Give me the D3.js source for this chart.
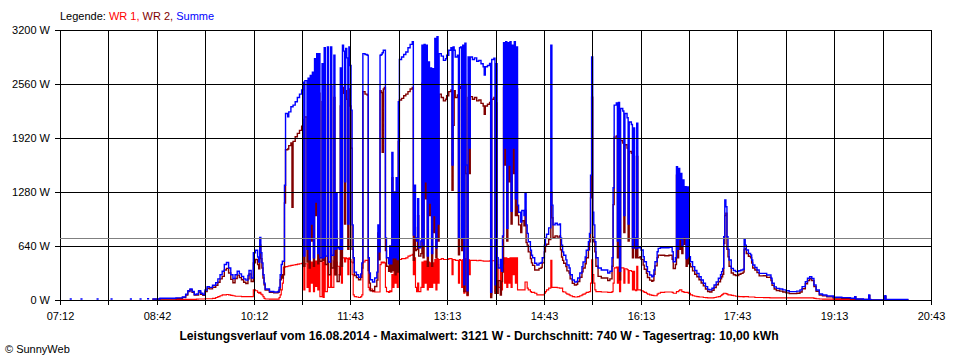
<!DOCTYPE html>
<html><head><meta charset="utf-8">
<script src="https://cdn.jsdelivr.net/npm/d3@7"></script>
<style>
html,body{margin:0;padding:0;background:#fff;}
svg{display:block;}
text{font-family:"Liberation Sans",Arial,sans-serif;}
</style></head><body>
<svg id="chart" width="960" height="360"></svg>
<script>
// ---- data (time in minutes after midnight, power in W) ----
const times = [
441,443,444,451,453,454,466,468,469,479,481,482,497,499,500,506,508,509,513,515,516,
518,525,540,546,549,551,553,555,557,559,
561,563,565,567,569,571,574,577,579,581,
583,585,587,589,591,593,595,597,599,601,
603,605,607,608,610,612,614,616,617,618,
619,620,621,622,623,627,631,635,636,637,
638,639,640,641,642,644,645,647,648,649,
651,653,655,657,658,659,660,662,663,664,
665,666,667,668,669,670,671,672,673,674,
676,677,678,679,681,682,684,685,687,688,
689,690,692,693,694,695,696,
697,698,699,700,701,702,703,704,705,706,
708,710,712,713,714,716,718,719,720,721,
723,725,727,728,729,730,731,732,733,734,
735,736,738,739,740,741,742,743,744,745,
746,747,748,750,752,754,756,758,760,761,
762,763,764,765,766,768,769,770,771,772,
773,774,775,776,777,778,779,780,781,782,
783,784,785,787,789,791,792,794,796,797,
798,799,800,802,803,804,805,806,807,808,
809,810,811,812,813,814,816,818,820,822,
824,826,827,828,830,832,833,834,836,837,
838,839,840,842,843,844,845,846,847,848,
849,850,851,852,853,854,855,856,857,858,
859,861,862,864,865,866,867,868,870,871,
872,874,876,878,880,881,883,884,885,887,
889,890,891,893,895,897,898,899,900,901,
903,904,906,907,909,911,913,914,916,918,
919,921,922,924,925,926,927,928,929,930,
931,933,936,939,942,944,946,947,948,950,
951,952,953,954,956,957,958,960,961,962,
964,965,966,967,968,969,970,972,973,975,
976,978,979,981,983,984,985,986,988,989,
991,995,999,1002,1003,1005,1006,1007,1008,1009,
1010,1011,1012,1013,1014,1015,1016,1017,1019,1021,
1023,1025,1027,1029,1031,1033,1035,1037,1039,1041,
1043,1045,1047,1048,1049,1050,1051,1052,1053,1054,
1055,1057,1059,1061,1064,1066,1068,1069,1070,1071,
1073,1075,1076,1077,1079,1081,1083,1087,1090,1093,
1094,1095,1097,1099,1102,1105,1108,1111,1114,1118,
1121,1123,1126,1128,1130,1132,1134,1136,1139,1142,
1146,1152,1160,1168,1172,1173,1180,1185,1186,1187,
1199,1200,1201,1222,1223
];
const wr1 = [
null,null,null,null,null,null,null,null,null,null,null,null,null,null,null,null,null,null,null,null,null,
0,3,5,5,8,8,8,8,8,10,
12,12,12,15,15,15,20,30,40,50,
60,60,65,60,55,50,45,45,45,40,
40,40,40,40,40,120,110,90,80,90,
70,60,40,20,12,10,10,10,30,60,
120,200,390,390,395,400,405,410,410,415,
420,425,430,435,440,120,430,150,440,100,
450,200,450,100,460,160,460,120,450,40,
450,30,460,100,460,150,470,150,460,300,
450,400,300,440,200,500,500,
450,500,490,300,500,480,450,300,60,40,
35,30,40,60,450,470,470,150,120,130,
100,95,95,95,95,420,450,440,450,440,
150,100,90,110,100,300,150,400,200,350,
150,470,480,490,490,500,520,530,540,300,
500,150,100,200,100,150,450,150,460,200,
460,120,450,150,440,150,440,200,480,120,
490,200,480,490,480,480,480,490,490,300,
480,480,470,470,200,480,470,150,480,80,
490,100,50,480,300,470,470,470,465,470,
465,460,460,460,460,465,60,465,465,100,
465,420,150,420,120,430,500,200,500,150,
490,200,500,150,500,300,500,200,500,120,
120,120,120,120,213,213,140,120,100,90,
90,80,60,60,60,60,80,100,120,140,
470,150,150,150,145,140,140,140,100,95,
80,70,60,50,40,35,35,40,50,60,
70,80,90,95,100,200,475,300,200,120,
100,100,95,95,90,90,100,200,380,390,
200,390,100,380,380,200,370,360,200,350,
340,120,340,120,110,400,120,120,110,100,
90,80,70,60,55,55,50,50,70,80,
90,95,95,90,80,80,100,100,110,120,
120,100,100,90,90,90,90,80,60,50,
45,40,35,35,30,28,25,25,25,30,
35,40,50,60,70,80,80,75,70,60,
60,55,50,45,40,40,35,40,40,40,
35,35,35,35,30,30,30,28,28,25,
25,25,25,25,25,25,25,25,25,25,
25,25,25,25,25,25,20,15,12,10,
10,8,8,5,3,3,2,0,0,0,
null,null,null,null,null
];
const wr2 = [
null,null,null,null,null,null,null,null,null,null,null,null,null,null,null,null,null,null,null,null,null,
10,15,18,30,60,100,122,90,58,60,
95,68,55,100,140,132,152,175,210,250,
280,355,375,320,245,205,255,295,265,240,
210,195,250,310,220,440,480,420,370,650,
490,380,260,180,118,90,85,90,120,240,
300,260,300,1150,1780,1790,1830,1860,1100,1880,
1935,1975,2010,2060,2140,400,2170,450,2190,380,
2210,700,2250,400,2400,1000,2460,430,2450,460,
2350,470,2530,420,2540,300,2530,380,2400,300,
820,220,300,2300,400,2520,2450,
900,2480,2380,600,2500,2300,1800,600,440,290,
265,240,270,380,2470,2440,2430,350,200,110,
110,160,235,795,475,2480,2460,1750,2500,2520,
585,400,340,530,330,1450,350,880,300,1100,
330,1880,2370,2390,2420,2440,2470,2500,2520,470,
860,585,600,1000,520,550,2570,500,2570,1200,
2560,400,2370,1000,2310,400,2300,800,2620,500,
2630,700,2440,2400,2360,2380,2420,2470,2490,1300,
2070,2480,2400,2430,535,2510,2530,585,2540,100,
2555,1500,60,2400,1500,2410,2380,2400,2360,2370,
2330,2300,2200,2300,2320,2340,30,2380,2400,80,
2335,80,230,60,220,330,2520,1600,2540,700,
2560,1400,2540,900,2520,1500,2560,1000,2500,1000,
890,800,940,880,1060,680,650,570,490,440,
410,355,355,375,385,440,570,635,660,715,
1280,975,740,760,745,760,595,510,470,435,
395,345,320,250,197,178,185,220,270,335,
380,430,500,595,690,1210,2405,740,690,570,
400,280,260,260,230,250,400,1130,1930,1945,
500,1950,240,1890,1860,800,1840,1800,700,1760,
1740,500,1700,615,500,1700,500,512,482,413,
364,315,266,236,221,230,305,404,502,532,
530,525,530,482,374,420,1480,500,1450,600,
1380,550,1320,660,1250,400,1250,430,394,345,
305,276,240,202,168,130,100,95,115,148,
180,217,250,276,305,670,1000,1030,600,513,
400,320,300,291,306,316,330,600,610,552,
518,500,439,380,355,325,286,288,268,271,
232,173,130,113,105,95,85,75,75,80,
95,133,192,232,251,230,158,103,60,49,
37,24,20,15,35,9,6,50,5,0,
0,40,5,5,null
];
const summe = [
12,12,null,12,12,null,12,12,null,12,12,null,12,12,null,12,12,null,15,15,null,
12,20,25,35,70,110,130,100,65,72,
110,80,65,118,158,150,175,205,250,300,
340,420,445,380,300,255,300,340,310,280,
250,235,290,350,260,560,590,510,450,740,
560,440,300,200,130,100,95,100,150,300,
420,460,460,1360,2210,2170,2230,2290,2290,2310,
2350,2400,2440,2490,2580,520,2600,600,2630,480,
2660,900,2700,500,2860,1160,2920,550,2920,500,
2800,500,2990,520,3000,450,3000,530,2900,600,
1270,620,600,2750,600,3020,2950,
1400,2980,2870,900,3000,2780,2250,890,500,330,
300,270,310,440,2920,2910,2900,500,320,240,
213,260,330,890,570,2900,2910,2930,2960,2960,
735,500,430,640,430,1750,500,1280,500,1450,
480,2350,2850,2880,2910,2940,2990,3030,3060,770,
1360,735,700,1200,620,700,3020,650,3030,1400,
3020,520,2820,1150,2750,550,2740,1000,3100,620,
3121,900,2920,2890,2840,2860,2900,2960,2990,1600,
3000,2960,2880,2900,735,2990,3000,735,3020,180,
3045,1600,110,2880,1800,2880,2850,2870,2830,2840,
2800,2765,2667,2765,2780,2805,90,2850,2865,180,
2800,500,380,480,340,760,3050,1800,3060,850,
3050,1600,3060,1050,3020,1800,3060,1200,3000,1125,
1040,925,1060,1000,1270,890,790,690,590,530,
500,435,415,435,445,500,650,735,780,855,
3020,1125,890,910,890,900,735,650,570,530,
475,415,380,300,237,213,220,260,320,395,
450,510,590,690,790,1480,2880,1040,890,690,
500,380,355,355,320,340,500,1330,2310,2335,
700,2340,340,2270,2240,1000,2210,2160,900,2110,
2080,620,2040,735,610,2094,620,632,592,513,
454,395,336,296,276,285,355,454,572,612,
620,620,625,572,454,500,1580,600,1560,720,
1500,650,1422,750,1343,490,1340,513,454,395,
350,316,275,237,198,158,125,120,140,178,
215,257,300,336,375,750,1185,1106,750,600,
474,375,350,336,346,356,365,719,650,592,
553,535,474,415,385,355,316,316,296,296,
257,198,155,138,130,120,110,99,99,105,
120,158,217,257,276,255,178,118,71,59,
47,32,28,20,40,12,8,59,8,0,
0,50,8,8,null
];
const seriesNames = ["WR 1", "WR 2", "Summe"];
const yTickValues = [0, 640, 1280, 1920, 2560, 3200];
const xTickLabels = ["07:12","08:42","10:12","11:43","13:13","14:43","16:13","17:43","19:13","20:43"];
const timeStart = 432, timeEnd = 1243; // 07:12 .. 20:43
const average = 740;
const titleText = "Leistungsverlauf vom 16.08.2014 - Maximalwert: 3121 W - Durchschnitt: 740 W - Tagesertrag: 10,00 kWh";
const copyright = "\u00A9 SunnyWeb";

// ---- drawing ----
const colors = ["#ff0000", "#800000", "#0000ff"];
const svg = d3.select("#chart");
const pL = 60, pR = 931, pT = 30, pB = 300;
const x = d3.scaleLinear().domain([timeStart, timeEnd]).range([pL, pR]);
const y = d3.scaleLinear().domain([0, 3200]).range([pB, pT]);
const nDiv = (xTickLabels.length - 1) * 2;
const xTicks = d3.range(nDiv + 1).map(i => timeStart + i * (timeEnd - timeStart) / nDiv);

const rows = times.map((t, i) => ({t, v: [wr1[i], wr2[i], summe[i]]}));
if (wr1.length !== times.length || wr2.length !== times.length || summe.length !== times.length)
  console.error("length mismatch", times.length, wr1.length, wr2.length, summe.length);

const dataG = svg.append("g");
[0, 1, 2].forEach(k => {
  const line = d3.line()
    .defined(d => d.v[k] != null)
    .x(d => x(d.t)).y(d => y(d.v[k]))
    .curve(d3.curveStepAfter);
  dataG.append("path").datum(rows)
    .attr("fill", "none").attr("stroke", colors[k])
    .attr("stroke-width", k === 0 ? 1.15 : 1.4)
    .attr("d", line);
});

const grid = svg.append("g").attr("shape-rendering", "crispEdges").attr("stroke", "#000").attr("stroke-width", 1);
yTickValues.forEach(v => {
  const yy = Math.round(y(v)) + 0.5;
  grid.append("line").attr("x1", pL - 5).attr("x2", pR).attr("y1", yy).attr("y2", yy);
});
xTicks.forEach(t => {
  const xx = Math.round(x(t)) + 0.5;
  grid.append("line").attr("x1", xx).attr("x2", xx).attr("y1", pT).attr("y2", pB + 5);
});
// average line
const ya = Math.round(y(average)) + 0.5;
svg.append("line").attr("x1", pL).attr("x2", pR).attr("y1", ya).attr("y2", ya)
  .attr("stroke", "#808080").attr("stroke-width", 1).attr("shape-rendering", "crispEdges");

// y labels
svg.append("g").selectAll("text").data(yTickValues).join("text")
  .attr("x", 50).attr("y", d => y(d) + 4)
  .attr("text-anchor", "end").attr("font-size", 11).text(d => d + " W");
// x labels
svg.append("g").selectAll("text").data(xTickLabels).join("text")
  .attr("x", (d, i) => Math.round(x(xTicks[i * 2])) + 0.5).attr("y", 320)
  .attr("text-anchor", "middle").attr("font-size", 11).text(d => d);

// legend
const leg = svg.append("text").attr("x", 60).attr("y", 20).attr("font-size", 11);
leg.append("tspan").attr("fill", "#000").text("Legende: ");
seriesNames.forEach((n, i) => {
  leg.append("tspan").attr("fill", colors[i]).text(n + (i < seriesNames.length - 1 ? ", " : ""));
});

// title
svg.append("text").attr("x", 479).attr("y", 340).attr("text-anchor", "middle")
  .attr("font-size", 12.2).attr("font-weight", "bold").text(titleText);
svg.append("text").attr("x", 5).attr("y", 353).attr("font-size", 11).text(copyright);
</script>
</body></html>
